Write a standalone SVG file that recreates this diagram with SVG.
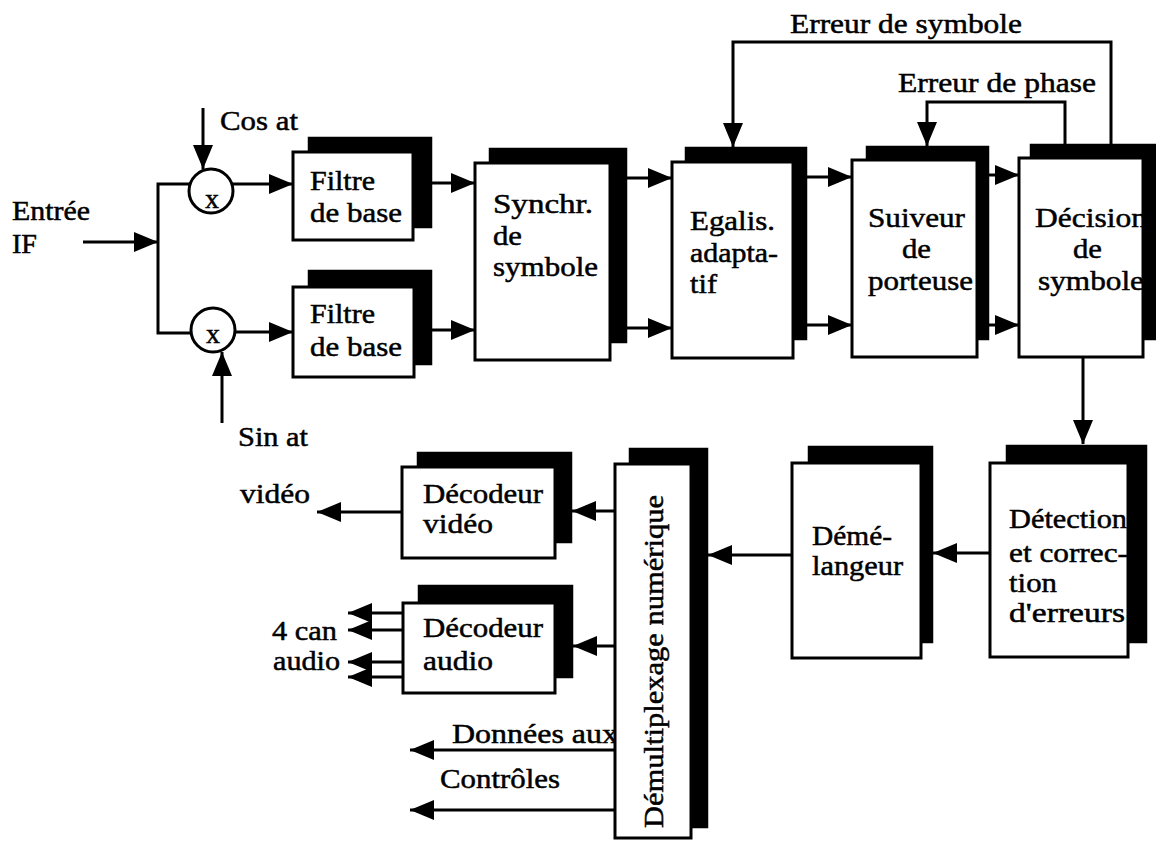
<svg xmlns="http://www.w3.org/2000/svg" width="1156" height="841" viewBox="0 0 1156 841">
<style>
.sh{fill:#000}
.fr{fill:#fff;stroke:#000;stroke-width:3}
.ln{fill:none;stroke:#000;stroke-width:3}
.ar{fill:none;stroke:#000;stroke-width:3;marker-end:url(#ah)}
.t{font-family:'Liberation Serif','DejaVu Serif',serif;font-size:28px;fill:#000;stroke:#000;stroke-width:0.5}
</style>
<defs>
<marker id="ah" markerUnits="userSpaceOnUse" markerWidth="24" markerHeight="20" refX="24" refY="10" orient="auto" overflow="visible">
<path d="M0,0 L24,10 L0,20 z" fill="#000"/>
</marker>
</defs>
<rect width="1156" height="841" fill="#fff"/>

<g id="connectors">
<path class="ar" d="M83,242 H158"/>
<path class="ln" d="M190,184 H158 V333 H191"/>
<path class="ar" d="M203,108 V169"/>
<path class="ar" d="M222,423 V352"/>
<path class="ar" d="M233,184 H293"/>
<path class="ar" d="M235,332 H293"/>
<path class="ar" d="M432,183 H475"/>
<path class="ar" d="M432,330 H475"/>
<path class="ar" d="M627,178 H672"/>
<path class="ar" d="M627,328 H672"/>
<path class="ar" d="M807,177 H852"/>
<path class="ar" d="M807,325 H852"/>
<path class="ar" d="M989,175 H1019"/>
<path class="ar" d="M989,325 H1019"/>
<path class="ar" d="M1111,146 V42 H733 V147"/>
<path class="ar" d="M1065,146 V102 H927 V146"/>
<path class="ar" d="M1083,357 V444"/>
<path class="ar" d="M990,553 H933"/>
<path class="ar" d="M792,555 H708"/>
<path class="ar" d="M615,511 H572"/>
<path class="ar" d="M615,646 H573"/>
<path class="ar" d="M402,512 H317"/>
<path class="ar" d="M403,613 H348"/>
<path class="ar" d="M403,630 H348"/>
<path class="ar" d="M403,662 H348"/>
<path class="ar" d="M403,677 H348"/>
<path class="ar" d="M615,750 H410"/>
<path class="ar" d="M615,810 H410"/>
</g>

<g id="labels" class="t">
<text x="12" y="220" textLength="78" lengthAdjust="spacingAndGlyphs">Entrée</text>
<text x="12" y="253" textLength="25" lengthAdjust="spacingAndGlyphs">IF</text>
<text x="220" y="130" textLength="78" lengthAdjust="spacingAndGlyphs">Cos at</text>
<text x="238" y="446" textLength="70" lengthAdjust="spacingAndGlyphs">Sin at</text>
<text x="790" y="33" textLength="232" lengthAdjust="spacingAndGlyphs">Erreur de symbole</text>
<text x="898" y="92" textLength="198" lengthAdjust="spacingAndGlyphs">Erreur de phase</text>
<text x="240" y="503" textLength="70" lengthAdjust="spacingAndGlyphs">vidéo</text>
<text x="272" y="640" textLength="65" lengthAdjust="spacingAndGlyphs">4 can</text>
<text x="273" y="670" textLength="67" lengthAdjust="spacingAndGlyphs">audio</text>
<text x="452" y="743" textLength="166" lengthAdjust="spacingAndGlyphs">Données aux</text>
<text x="440" y="788" textLength="120" lengthAdjust="spacingAndGlyphs">Contrôles</text>
</g>

<g id="mult-cos" class="t">
<circle class="fr" cx="211" cy="191" r="22"/>
<text x="212" y="208" text-anchor="middle">x</text>
</g>
<g id="mult-sin" class="t">
<circle class="fr" cx="213" cy="330" r="22"/>
<text x="213" y="343" text-anchor="middle">x</text>
</g>

<g id="filtre1" class="t">
<rect class="sh" x="308" y="137" width="124" height="91"/>
<rect class="fr" x="293" y="152" width="120" height="88"/>
<text x="310" y="190" textLength="65" lengthAdjust="spacingAndGlyphs">Filtre</text>
<text x="310" y="222" textLength="92" lengthAdjust="spacingAndGlyphs">de base</text>
</g>
<g id="filtre2" class="t">
<rect class="sh" x="308" y="270" width="124" height="95"/>
<rect class="fr" x="293" y="287" width="121" height="90"/>
<text x="310" y="323" textLength="65" lengthAdjust="spacingAndGlyphs">Filtre</text>
<text x="310" y="356" textLength="92" lengthAdjust="spacingAndGlyphs">de base</text>
</g>

<g id="synchr" class="t">
<rect class="sh" x="489" y="148" width="138" height="195"/>
<rect class="fr" x="475" y="163" width="135" height="197"/>
<text x="493" y="213" textLength="100" lengthAdjust="spacingAndGlyphs">Synchr.</text>
<text x="493" y="245" textLength="29" lengthAdjust="spacingAndGlyphs">de</text>
<text x="493" y="276" textLength="105" lengthAdjust="spacingAndGlyphs">symbole</text>
</g>

<g id="egalis" class="t">
<rect class="sh" x="685" y="147" width="122" height="193"/>
<rect class="fr" x="672" y="162" width="121" height="196"/>
<text x="690" y="230" textLength="85" lengthAdjust="spacingAndGlyphs">Egalis.</text>
<text x="690" y="262" textLength="88" lengthAdjust="spacingAndGlyphs">adapta-</text>
<text x="690" y="293" textLength="27" lengthAdjust="spacingAndGlyphs">tif</text>
</g>

<g id="suiveur" class="t">
<rect class="sh" x="866" y="146" width="123" height="194"/>
<rect class="fr" x="852" y="160" width="125" height="197"/>
<text x="868" y="227" textLength="97" lengthAdjust="spacingAndGlyphs">Suiveur</text>
<text x="902" y="258" textLength="29" lengthAdjust="spacingAndGlyphs">de</text>
<text x="868" y="290" textLength="105" lengthAdjust="spacingAndGlyphs">porteuse</text>
</g>

<g id="decision" class="t">
<rect class="sh" x="1030" y="144" width="130" height="196"/>
<rect class="fr" x="1019" y="158" width="124" height="199"/>
<text x="1035" y="227" textLength="112" lengthAdjust="spacingAndGlyphs">Décision</text>
<text x="1073" y="258" textLength="29" lengthAdjust="spacingAndGlyphs">de</text>
<text x="1038" y="290" textLength="106" lengthAdjust="spacingAndGlyphs">symbole</text>
</g>

<g id="detection" class="t">
<rect class="sh" x="1006" y="445" width="141" height="198"/>
<rect class="fr" x="990" y="463" width="138" height="194"/>
<text x="1009" y="528" textLength="118" lengthAdjust="spacingAndGlyphs">Détection</text>
<text x="1009" y="562" textLength="119" lengthAdjust="spacingAndGlyphs">et correc-</text>
<text x="1009" y="592" textLength="48" lengthAdjust="spacingAndGlyphs">tion</text>
<text x="1009" y="622" textLength="116" lengthAdjust="spacingAndGlyphs">d'erreurs</text>
</g>

<g id="demelangeur" class="t">
<rect class="sh" x="808" y="446" width="125" height="197"/>
<rect class="fr" x="792" y="463" width="129" height="195"/>
<text x="812" y="545" textLength="80" lengthAdjust="spacingAndGlyphs">Démé-</text>
<text x="812" y="575" textLength="91" lengthAdjust="spacingAndGlyphs">langeur</text>
</g>

<g id="demux" class="t">
<rect class="sh" x="629" y="448" width="79" height="380"/>
<rect class="fr" x="615" y="464" width="76" height="374"/>
<text transform="translate(663,828) rotate(-90)" x="0" y="0" textLength="333" lengthAdjust="spacingAndGlyphs">Démultiplexage numérique</text>
</g>

<g id="decodeur-video" class="t">
<rect class="sh" x="417" y="452" width="155" height="91"/>
<rect class="fr" x="402" y="467" width="153" height="91"/>
<text x="423" y="503" textLength="120" lengthAdjust="spacingAndGlyphs">Décodeur</text>
<text x="423" y="533" textLength="70" lengthAdjust="spacingAndGlyphs">vidéo</text>
</g>

<g id="decodeur-audio" class="t">
<rect class="sh" x="418" y="585" width="155" height="93"/>
<rect class="fr" x="403" y="603" width="152" height="90"/>
<text x="423" y="637" textLength="120" lengthAdjust="spacingAndGlyphs">Décodeur</text>
<text x="423" y="670" textLength="70" lengthAdjust="spacingAndGlyphs">audio</text>
</g>
</svg>
